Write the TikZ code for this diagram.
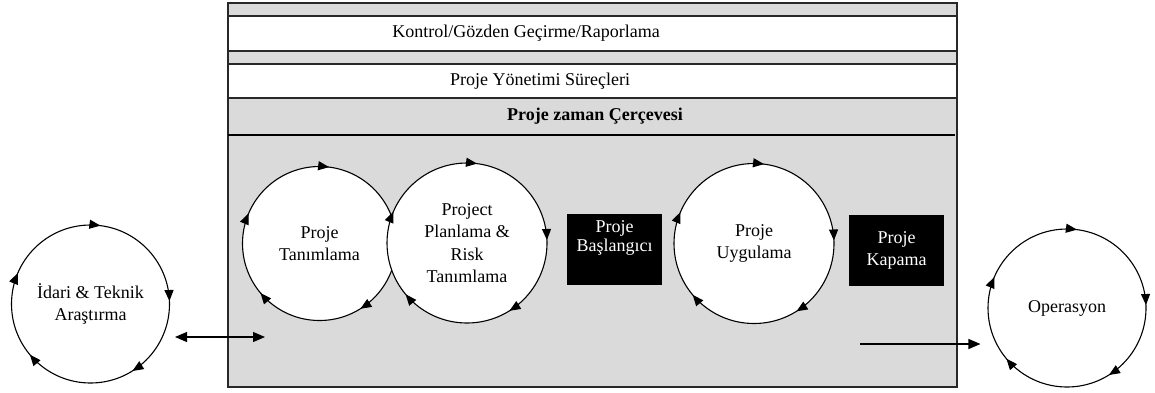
\documentclass[tikz,border=0pt]{standalone}
\usepackage{fontspec}
\setmainfont{Liberation Serif}
\usetikzlibrary{arrows.meta, positioning, decorations.markings}
\definecolor{BG}{RGB}{218,218,218}
\definecolor{DG}{RGB}{40,40,40}

\begin{document}
\begin{tikzpicture}[x=1pt, y=-1pt,
  cyc/.style={draw=black, circle, fill=white, minimum size=#1, inner sep=0pt,
              line width=1.1pt, align=center, font=\fontsize{18}{22.5}\selectfont,
              postaction={decorate}, decoration={markings,
                mark=at position 0.006 with {\arrowreversed{Triangle[length=11pt,width=9pt]}},
                mark=at position 0.230 with {\arrowreversed{Triangle[length=11pt,width=9pt]}},
                mark=at position 0.436 with {\arrowreversed{Triangle[length=11pt,width=9pt]}},
                mark=at position 0.611 with {\arrowreversed{Triangle[length=11pt,width=9pt]}},
                mark=at position 0.839 with {\arrowreversed{Triangle[length=11pt,width=9pt]}}}},
  blk/.style={fill=black, minimum width=95pt, minimum height=71pt, inner sep=0pt},
  wtxt/.style={text=white, align=center, font=\fontsize{18}{19}\selectfont},
  hdr/.style={font=\fontsize{18}{20}\selectfont, text=black},
  arr/.style={-{Triangle[length=12pt,width=10pt]}, line width=1.1pt}
]
\useasboundingbox (0,0) rectangle (1155,392);

% Frame and bands
\filldraw[fill=BG, draw=DG, line width=1.6pt] (228,3) rectangle (957,387);
\filldraw[fill=white, draw=DG, line width=1.3pt] (228,16) rectangle (957,51);
\filldraw[fill=white, draw=DG, line width=1.3pt] (228,64) rectangle (957,98);
\draw[line width=2.6pt] (228,135) -- (955,135);

\node[hdr] (kontrol) at (526,33) {Kontrol/Gözden Geçirme/Raporlama};
\node[hdr] (surec)   at (540,81) {Proje Yönetimi Süreçleri};
\node[hdr, font=\fontsize{18}{20}\selectfont\bfseries] (zaman) at (595,116) {Proje zaman Çerçevesi};

% Phases
\node[cyc=154pt] (tan)  at (319.5,243.5) {Proje\\Tanımlama};
\node[cyc=160pt] (plan) at (467,243)     {Project\\Planlama \&\\Risk\\Tanımlama};
\node[blk]       (basl) at (614.5,249.5) {};
\node[wtxt, below=3pt of basl.north] (basltxt) {Proje\\Başlangıcı};
\node[cyc=160pt] (uyg)  at (754,243.5)   {Proje\\Uygulama};
\node[blk, wtxt, font=\fontsize{18}{22}\selectfont] (kap) at (896.5,250.5) {Proje\\Kapama};

% Outside the frame
\node[cyc=158pt] (idari) at (90.5,304) {İdari \& Teknik\\Araştırma};
\node[cyc=158pt] (oper)  at (1067,308) {Operasyon};

% Arrows
\coordinate (inL) at (175,337);
\coordinate (inR) at (265,337);
\draw[arr, {Triangle[length=12pt,width=10pt]}-{Triangle[length=12pt,width=10pt]}] (inL) -- (inR);
\coordinate (outL) at (860,344);
\draw[arr, shorten >=7pt] (outL) -- (outL -| oper.west);
\end{tikzpicture}
\end{document}
